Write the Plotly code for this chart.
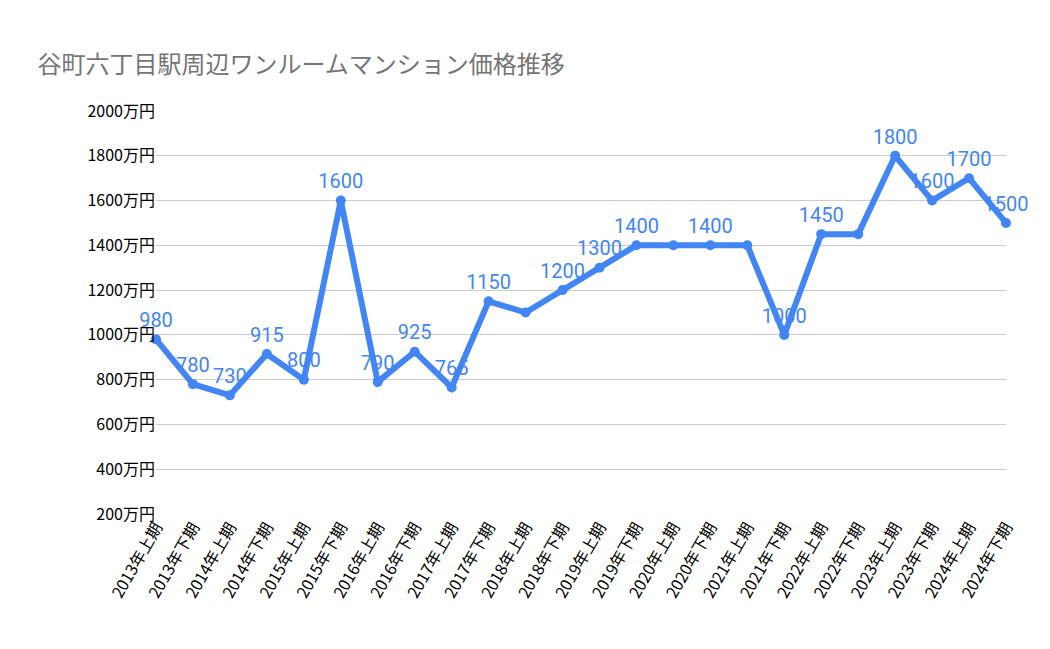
import plotly.graph_objects as go

periods = ["2013年上期","2013年下期","2014年上期","2014年下期","2015年上期","2015年下期",
           "2016年上期","2016年下期","2017年上期","2017年下期","2018年上期","2018年下期",
           "2019年上期","2019年下期","2020年上期","2020年下期","2021年上期","2021年下期",
           "2022年上期","2022年下期","2023年上期","2023年下期","2024年上期","2024年下期"]
prices = [980,780,730,915,800,1600,790,925,765,1150,1100,1200,1300,1400,1400,1400,1400,1000,1450,1450,1800,1600,1700,1500]
shown = [True,True,True,True,True,True,True,True,True,True,False,True,True,True,False,True,False,True,True,False,True,True,True,True]
labels = [str(v) if s else "" for v, s in zip(prices, shown)]
yticks = [200,400,600,800,1000,1200,1400,1600,1800,2000]

font = "Noto Sans CJK JP"
fig = go.Figure(go.Scatter(
    x=list(range(len(periods))), y=prices, mode="lines+markers+text",
    text=labels, textposition="top center",
    textfont=dict(color="#4285f4", size=20, family="Roboto"),
    line=dict(color="#4285f4", width=6), marker=dict(size=10, color="#4285f4"),
    cliponaxis=False))
fig.update_layout(
    width=1050, height=649, paper_bgcolor="white", plot_bgcolor="white",
    margin=dict(l=148, r=52, t=103, b=143), showlegend=False,
    title=dict(text="谷町六丁目駅周辺ワンルームマンション価格推移", x=0.028, y=0.925,
               font=dict(family=font, size=24, color="#757575")),
    xaxis=dict(range=[0, 23], tickvals=list(range(len(periods))), ticktext=periods,
               tickangle=-60, showgrid=False, zeroline=False, automargin=False,
               tickfont=dict(family=font, size=16, color="black")),
    yaxis=dict(range=[200, 2000], tickvals=yticks, ticktext=[f"{v}万円" for v in yticks],
               gridcolor="#cccccc", zeroline=False, automargin=False,
               tickfont=dict(family=font, size=16, color="black")),
)
fig.write_html("out.html")
